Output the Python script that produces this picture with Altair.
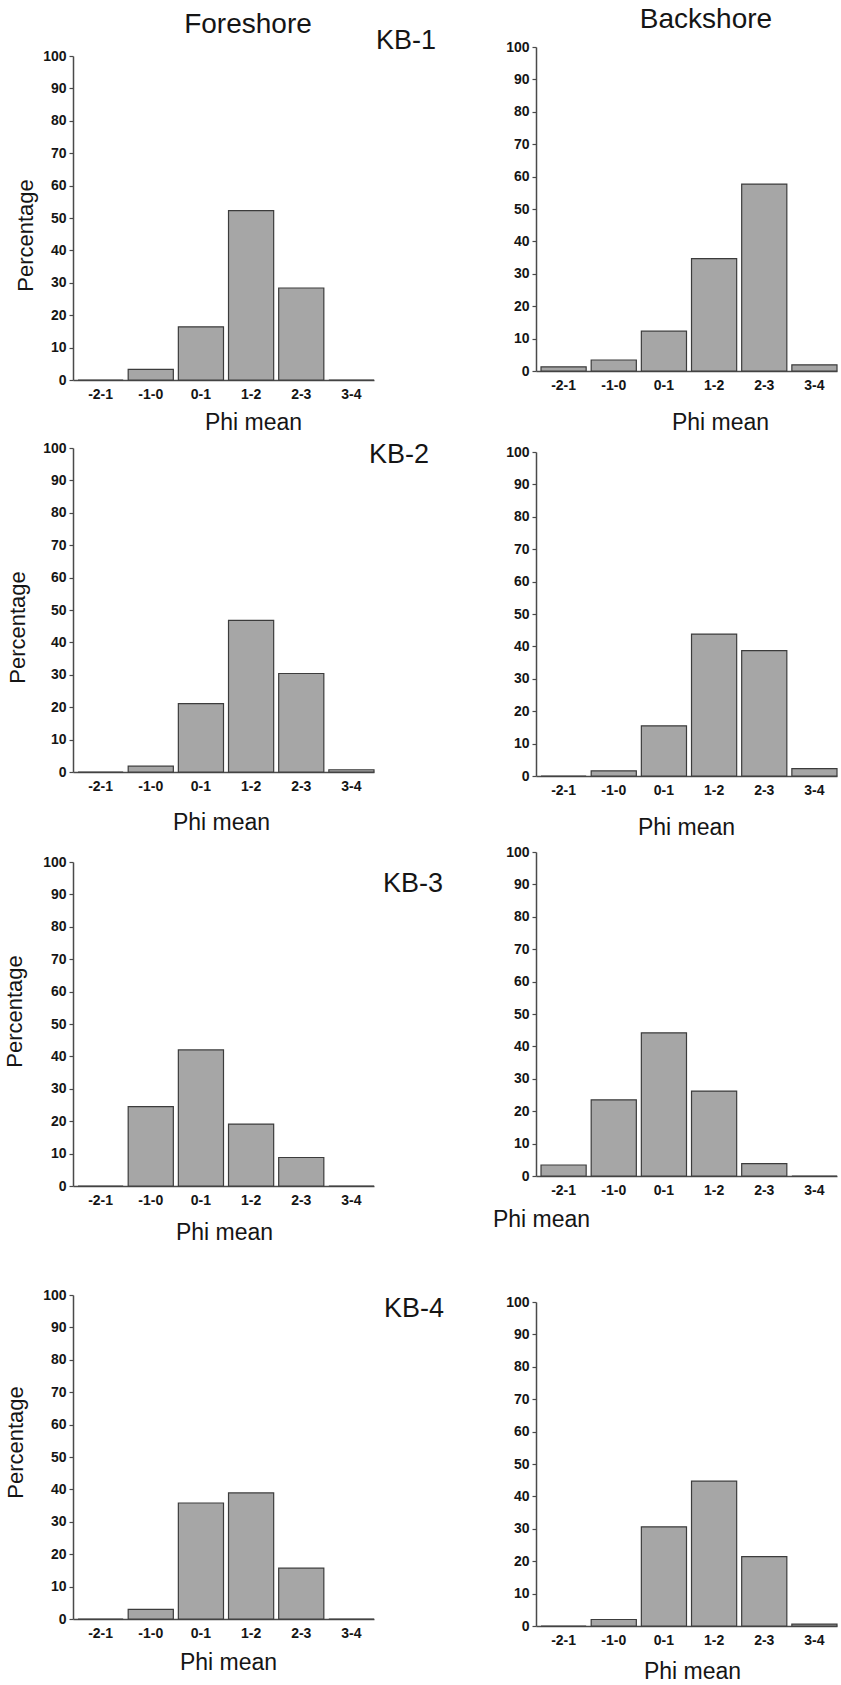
import altair as alt
import pandas as pd

# ---------------- data ----------------
CATEGORIES = ["-2-1", "-1-0", "0-1", "1-2", "2-3", "3-4"]
Y_TICKS = [0, 10, 20, 30, 40, 50, 60, 70, 80, 90, 100]

fore_kb1 = [0, 3.3, 16.4, 52.3, 28.4, 0]
back_kb1 = [1.3, 3.4, 12.3, 34.7, 57.7, 1.9]
fore_kb2 = [0, 1.8, 21.1, 46.8, 30.4, 0.7]
back_kb2 = [0, 1.6, 15.5, 43.8, 38.7, 2.3]
fore_kb3 = [0, 24.5, 42.0, 19.1, 8.8, 0]
back_kb3 = [3.4, 23.5, 44.2, 26.2, 3.8, 0]
fore_kb4 = [0, 3.0, 35.8, 38.9, 15.7, 0]
back_kb4 = [0, 2.0, 30.6, 44.7, 21.4, 0.6]

SITES = ["KB-1", "KB-2", "KB-3", "KB-4"]
FORE = [fore_kb1, fore_kb2, fore_kb3, fore_kb4]
BACK = [back_kb1, back_kb2, back_kb3, back_kb4]

# ---------------- layout (absolute page pixels, kept apart from data) ----------------
W, H = 301, 324
BOUND_X = 470
SPACER = 1
ROW_TOP = [SPACER, 438, 842, 1265]
ROW_BOT = [438, 842, 1265, 1682]
TOP_TRIM = [3, 1.5, 2, 1.5]          # compensation for layout rounding per row
COL_X = {"left": 72, "right": 533}
PLOT_TOP = {"left": [56, 448, 862, 1295], "right": [47, 452, 852, 1302]}
PCT_CENTER = [(24, 235), (16, 627), (13, 1011), (14, 1442)]
XTITLE_CENTER = {"left": [(252, 422), (220, 822), (223, 1232), (227, 1662)],
                 "right": [(717, 422), (683, 827), (538, 1219), (689, 1671)]}
KB_START = [(375, 41), (368, 455), (382, 884), (383, 1309)]
HEAD_CENTER = {"left": ("Foreshore", 247, 25), "right": ("Backshore", 703, 20)}

FONT = "Liberation Sans"
TEXT = "#151515"
AXIS = "#4a4a4a"
BAR_FILL = "#a6a6a6"
BAR_STROKE = "#3c3c3c"


def label_layer(text, x, y, size, align="left", baseline="middle", color=TEXT):
    return alt.Chart(pd.DataFrame({"t": [text]})).mark_text(
        font=FONT, fontSize=size, align=align, baseline=baseline, color=color
    ).encode(text="t:N", x=alt.value(x), y=alt.value(y))


def spacer():
    return label_layer(".", 0, 0, 1, baseline="top", color="white").properties(
        width=SPACER, height=SPACER)


def panel(values, side, row):
    df = pd.DataFrame({"phi": CATEGORIES, "pct": values})
    ox = COL_X[side]
    oy = PLOT_TOP[side][row]
    cx, cy = XTITLE_CENTER[side][row]

    y_axis_kwargs = dict(values=Y_TICKS, tickSize=4, labelPadding=3, grid=False)
    if side == "left":
        px, py = PCT_CENTER[row]
        y_axis = alt.Axis(title="Percentage", titleX=px - ox, titleY=py - oy, titleAngle=270,
                          titleBaseline="middle", titleAlign="center", titleFontSize=22,
                          **y_axis_kwargs)
    else:
        y_axis = alt.Axis(title=None, **y_axis_kwargs)

    bars = alt.Chart(df).mark_bar(
        fill=BAR_FILL, stroke=BAR_STROKE, strokeWidth=1.2
    ).encode(
        x=alt.X("phi:N", sort=CATEGORIES,
                scale=alt.Scale(paddingInner=0.1, paddingOuter=0.05, align=1),
                axis=alt.Axis(title="Phi mean", labelAngle=0, ticks=False, labelPadding=7,
                              titleX=cx - ox, titleY=cy - (oy + H), titleBaseline="middle",
                              titleAlign="center", titleFontSize=23, grid=False)),
        y=alt.Y("pct:Q", scale=alt.Scale(domain=[0, 100], nice=False), axis=y_axis),
    )

    layers = [bars]
    if side == "left":
        kx, ky = KB_START[row]
        layers.append(label_layer(SITES[row], kx - ox, ky - oy, 27))
    if row == 0:
        htxt, hx, hy = HEAD_CENTER[side]
        layers.append(label_layer(htxt, hx - ox, hy - oy, 28, align="center"))

    # invisible layout anchors marking the corners of this panel's cell
    left_edge = 0 if side == "left" else BOUND_X
    right_edge = BOUND_X if side == "left" else ox + W + 2
    layers.append(label_layer(".", left_edge - ox, ROW_TOP[row] - oy + TOP_TRIM[row], 1,
                              align="left", baseline="top", color="white"))
    layers.append(label_layer(".", right_edge - ox, ROW_BOT[row] - oy, 1, align="right",
                              baseline="bottom", color="white"))

    return alt.layer(*layers).properties(width=W, height=H)


left_col = alt.vconcat(spacer(), *[panel(FORE[r], "left", r) for r in range(4)], spacing=0)
right_col = alt.vconcat(spacer(), *[panel(BACK[r], "right", r) for r in range(4)], spacing=0)

chart = alt.hconcat(left_col, right_col, spacing=0).properties(
    padding=0, background="white"
).configure_view(
    stroke="transparent"
).configure_axis(
    domainColor=AXIS, domainWidth=1.5, tickColor=AXIS, tickWidth=1.2,
    labelFont=FONT, labelFontSize=14, labelFontWeight="bold", labelColor=TEXT,
    titleFont=FONT, titleFontWeight="normal", titleColor=TEXT,
)

chart.save("out.html", embed_options={"renderer": "svg", "actions": False})
